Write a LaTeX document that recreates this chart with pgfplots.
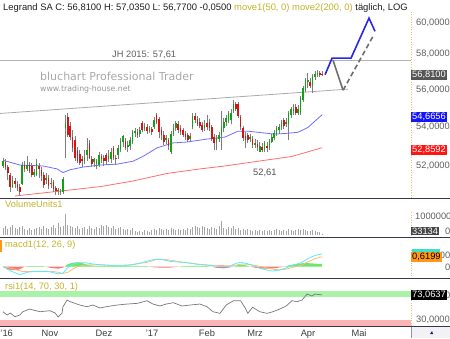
\documentclass[border=0pt]{standalone}
\usepackage{pgfplots}
\pgfplotsset{compat=1.18}
\usepackage{pgfplotstable}
\usepackage{fontspec}
\setmainfont{Liberation Sans}
\newfontfamily\dejavu{DejaVu Sans}
\definecolor{txt}{RGB}{30,30,30}
\definecolor{ylw}{RGB}{195,180,40}
\definecolor{wick}{RGB}{125,125,125}
\definecolor{cgreen}{RGB}{20,160,20}
\definecolor{cred}{RGB}{215,20,20}
\definecolor{ma50}{RGB}{110,110,255}
\definecolor{ma200}{RGB}{255,110,110}
\definecolor{sep}{RGB}{55,55,75}
\definecolor{dotc}{RGB}{225,195,110}
\definecolor{volc}{RGB}{165,165,165}
\definecolor{macdc}{RGB}{90,235,250}
\definecolor{sigc}{RGB}{255,185,120}
\definecolor{hgreen}{RGB}{110,230,110}
\definecolor{hred}{RGB}{245,120,120}
\definecolor{rsig}{RGB}{170,242,170}
\definecolor{rsir}{RGB}{252,180,180}
\definecolor{projb}{RGB}{40,40,230}
\definecolor{projg}{RGB}{110,110,110}
\definecolor{jhc}{RGB}{178,178,178}
\definecolor{trc}{RGB}{170,170,170}
\definecolor{rsil}{RGB}{120,120,120}
\newcommand{\ff}{\fontsize{9.3}{11}\selectfont}

\pgfplotstableread{
i O H L C
0 51.86 52.32 51.75 52.12
1 52.06 52.22 51.65 51.80
2 51.80 51.91 51.09 51.45
3 51.39 51.50 50.43 50.73
4 50.73 51.29 50.63 51.09
5 51.04 51.19 50.68 50.88
6 50.88 51.04 50.48 50.68
7 50.73 50.88 50.28 50.43
8 50.88 52.06 50.83 51.91
9 51.91 52.12 51.55 51.70
10 51.70 52.38 51.60 51.91
11 51.91 52.06 51.45 51.60
12 51.86 52.01 51.24 51.39
13 51.39 51.70 51.24 51.55
14 51.39 52.22 51.29 51.96
15 51.86 52.01 51.19 51.70
16 51.65 51.80 51.04 51.29
17 51.39 51.55 50.68 50.83
18 51.09 51.45 50.88 51.19
19 51.19 51.39 50.58 50.78
20 50.88 51.19 50.68 50.93
21 50.99 51.09 50.43 50.58
22 50.63 50.78 50.28 50.48
23 50.48 50.68 50.28 50.53
24 50.43 50.58 50.28 50.48
25 50.43 51.24 50.33 51.14
26 53.92 54.62 52.32 54.19
27 54.51 54.73 53.44 53.54
28 54.03 54.24 53.28 53.44
29 53.44 53.81 52.64 52.85
30 53.28 53.49 52.12 52.32
31 52.74 52.91 52.01 52.12
32 52.53 52.74 51.91 52.01
33 52.22 52.43 51.80 52.12
34 52.12 52.74 51.96 52.32
35 52.48 53.38 52.12 52.74
36 53.12 53.28 52.22 52.32
37 52.22 52.38 51.80 51.96
38 52.06 52.32 51.80 52.22
39 51.96 52.22 51.70 52.12
40 51.91 52.64 51.80 52.48
41 52.38 52.53 52.01 52.22
42 52.32 52.48 51.86 52.12
43 52.48 52.58 51.91 52.12
44 52.22 52.74 52.06 52.38
45 52.22 52.86 52.01 52.64
46 52.86 52.97 52.17 52.32
47 52.32 52.48 51.91 52.22
48 52.48 53.01 52.22 52.86
49 52.74 53.38 52.64 53.22
50 53.17 53.54 52.90 53.49
51 53.22 53.38 52.74 52.85
52 52.90 53.22 52.64 53.01
53 52.95 53.44 52.74 53.28
54 53.17 53.81 53.06 53.70
55 53.65 53.92 53.44 53.76
56 53.70 53.86 53.38 53.54
57 53.60 53.97 53.44 53.81
58 54.19 54.30 53.70 53.81
59 53.86 54.19 53.76 54.03
60 53.97 54.13 53.60 53.76
61 53.76 54.03 53.65 53.92
62 53.86 53.97 53.54 53.70
63 53.97 54.51 53.86 54.35
64 54.62 54.73 54.13 54.24
65 54.40 54.51 53.38 53.70
66 53.81 53.97 53.28 53.54
67 53.54 53.76 53.01 53.17
68 53.28 53.54 53.06 53.38
69 53.28 53.38 52.74 52.95
70 52.64 53.76 52.53 53.60
71 53.60 54.13 53.49 53.92
72 53.92 54.30 53.76 54.19
73 54.13 54.30 53.65 53.81
74 53.92 54.08 53.54 53.70
75 53.81 53.92 53.44 53.54
76 53.60 53.76 53.28 53.44
77 53.54 53.65 53.17 53.28
78 53.33 53.65 53.22 53.49
79 53.97 54.73 53.86 54.57
80 54.57 54.73 54.19 54.35
81 54.40 54.57 54.03 54.13
82 54.24 54.46 53.92 54.03
83 54.08 54.24 53.70 53.81
84 53.92 54.35 53.76 54.08
85 54.19 54.62 53.81 53.97
86 54.24 54.40 53.76 53.92
87 53.97 54.08 53.22 53.33
88 53.44 53.60 52.74 53.12
89 53.17 53.54 52.74 53.38
90 53.33 53.70 53.17 53.54
91 53.54 54.89 52.74 53.97
92 53.92 54.46 53.70 54.24
93 54.24 54.67 54.03 54.46
94 54.30 54.89 54.19 54.73
95 54.35 55.00 54.13 54.78
96 54.89 55.45 54.78 55.22
97 55.22 55.33 54.89 55.00
98 55.22 55.33 54.46 54.57
99 54.51 54.62 53.81 53.97
100 53.92 54.03 53.22 53.38
101 53.49 53.70 52.85 53.28
102 53.54 53.65 53.12 53.28
103 53.33 53.60 53.17 53.44
104 53.33 53.49 52.85 53.01
105 53.01 53.33 52.85 53.12
106 53.06 53.28 52.69 52.90
107 52.64 53.17 52.64 52.95
108 52.90 53.12 52.64 52.74
109 52.74 53.22 52.61 53.12
110 52.95 53.17 52.64 52.85
111 52.85 53.33 52.74 53.22
112 53.17 53.60 53.12 53.44
113 53.38 53.81 53.28 53.65
114 53.60 54.03 53.49 53.92
115 53.81 54.13 53.60 53.97
116 53.97 54.35 53.81 54.19
117 54.35 54.46 53.86 54.03
118 54.13 54.46 53.97 54.24
119 54.13 54.89 53.28 54.73
120 54.67 55.11 54.46 54.95
121 54.89 55.22 54.67 55.00
122 55.06 55.22 54.62 54.73
123 54.78 55.17 54.62 54.95
124 54.78 55.67 54.67 55.56
125 55.45 56.23 55.33 56.11
126 56.00 56.68 55.89 56.57
127 56.45 56.96 56.11 56.57
128 56.45 56.68 56.11 56.23
129 56.23 56.90 55.83 56.79
130 56.73 57.07 56.57 56.90
131 56.85 57.13 56.73 56.96
132 56.96 57.07 56.73 56.85
133 56.86 57.035 56.77 56.81
}\candles

\pgfplotstableread{
i V
0 420000
1 540000
2 360000
3 480000
4 600000
5 420000
6 360000
7 480000
8 540000
9 360000
10 300000
11 420000
12 300000
13 360000
14 420000
15 480000
16 360000
17 540000
18 420000
19 360000
20 480000
21 600000
22 420000
23 720000
24 480000
25 540000
26 1260000
27 600000
28 540000
29 480000
30 420000
31 540000
32 360000
33 420000
34 480000
35 360000
36 540000
37 420000
38 360000
39 480000
40 420000
41 600000
42 540000
43 600000
44 480000
45 420000
46 540000
47 360000
48 420000
49 480000
50 360000
51 300000
52 360000
53 300000
54 420000
55 240000
56 180000
57 240000
58 180000
59 300000
60 240000
61 180000
62 300000
63 360000
64 300000
65 420000
66 360000
67 300000
68 360000
69 300000
70 420000
71 360000
72 300000
73 360000
74 300000
75 360000
76 300000
77 420000
78 360000
79 480000
80 540000
81 480000
82 420000
83 540000
84 480000
85 420000
86 360000
87 480000
88 420000
89 360000
90 540000
91 840000
92 420000
93 360000
94 480000
95 420000
96 540000
97 360000
98 420000
99 300000
100 360000
101 300000
102 360000
103 300000
104 240000
105 300000
106 240000
107 300000
108 240000
109 300000
110 240000
111 300000
112 240000
113 300000
114 360000
115 300000
116 240000
117 300000
118 240000
119 360000
120 300000
121 240000
122 300000
123 360000
124 300000
125 360000
126 300000
127 240000
128 240000
129 300000
130 240000
131 180000
132 180000
133 33134
}\vol

\begin{document}
\begin{tikzpicture}
\path[use as bounding box] (0pt,0pt) rectangle (450pt,338pt);
\pgfplotsset{every axis/.append style={scale only axis, hide axis, xmin=-1.25, xmax=170, width=411pt, clip=true}}

% ---------- main price panel ----------
\begin{axis}[at={(0pt,140pt)}, anchor=south west, height=198pt, ymin=50.11, ymax=60.93]
\addplot[jhc, line width=0.8pt] coordinates {(-1.25,57.61) (170,57.61)};
\addplot[trc, line width=0.8pt] coordinates {(-1.25,54.73) (143.75,56.06)};
\addplot[ma50, line width=0.8pt] coordinates {(0,52.17) (7.08,51.91) (16.67,51.86) (22.5,51.70) (25,51.50) (27.9,51.65) (33.3,51.80) (40.4,51.91) (47.5,51.96) (54.2,52.12) (58.3,52.38) (64.2,52.85) (70.8,53.12) (76.7,53.17) (85,53.33) (92.5,53.44) (97.9,53.76) (102.1,53.76) (106.25,53.70) (113.3,53.60) (118.75,53.65) (122.9,53.70) (127.1,53.97) (133,54.6656)};
\addplot[ma200, line width=0.8pt] coordinates {(5,50.22) (26.7,50.53) (40.4,50.73) (54.2,51.04) (68.3,51.45) (82.1,51.70) (92.5,51.86) (106.25,52.12) (120.4,52.38) (133,52.8592)};
% candles: wick from L to H, body from O to C, values read from the table
\pgfplotsinvokeforeach{0,...,133}{%
  \pgfplotstablegetelem{#1}{O}\of\candles\let\Ov\pgfplotsretval
  \pgfplotstablegetelem{#1}{H}\of\candles\let\Hv\pgfplotsretval
  \pgfplotstablegetelem{#1}{L}\of\candles\let\Lv\pgfplotsretval
  \pgfplotstablegetelem{#1}{C}\of\candles\let\Cv\pgfplotsretval
  \pgfmathparse{\Cv>\Ov}%
  \ifdim\pgfmathresult pt>0.5pt \def\bc{cgreen}\else\def\bc{cred}\fi
  \edef\temp{\noexpand\addplot[wick, line width=0.75pt, forget plot] coordinates {(#1,\Lv) (#1,\Hv)};%
    \noexpand\addplot[\bc, line width=1.7pt, forget plot] coordinates {(#1,\Ov) (#1,\Cv)};}%
  \temp
}
% projections
\addplot[projg, line width=1.6pt] coordinates {(137.5,57.64) (141.7,56.0)};
\addplot[projg, line width=1.6pt, dash pattern=on 5pt off 3pt] coordinates {(141.7,56.0) (154.6,59.05)};
\addplot[projb, line width=1.6pt] coordinates {(134.2,56.85) (137.1,57.75) (145,57.75) (152.5,59.94) (155,59.22)};
\end{axis}

% ---------- volume ----------
\begin{axis}[at={(0pt,101pt)}, anchor=south west, height=38pt, ymin=-120000, ymax=2160000]
\addplot[ycomb, volc, line width=0.9pt, mark=none] table[x=i, y=V] {\vol};
\end{axis}

% ---------- MACD ----------
\begin{axis}[at={(0pt,59.5pt)}, anchor=south west, height=41pt, ymin=-0.733, ymax=1.81]
\addplot[fill=hred, draw=none] coordinates {(0,0) (2,-0.15) (4,-0.22) (6,-0.22) (8,-0.08) (9,0)};
\addplot[fill=hred, draw=none] coordinates {(18,0) (20,-0.08) (23,-0.12) (25,-0.06) (25.5,0)};
\addplot[fill=hred, draw=none] coordinates {(61,0) (63,-0.04) (66,-0.06) (70,-0.05) (73,0)};
\addplot[fill=hred, draw=none] coordinates {(87,0) (89,-0.07) (92,-0.1) (94,-0.06) (96,0)};
\addplot[fill=hred, draw=none] coordinates {(103,0) (105,-0.06) (108,-0.12) (111,-0.12) (114,-0.08) (117,0)};
\addplot[fill=hgreen, draw=none] coordinates {(9,0) (10,0.03) (17,0.03) (17.5,0)};
\addplot[fill=hgreen, draw=none] coordinates {(25.5,0) (27,0.15) (29,0.25) (31,0.27) (33,0.22) (35,0.12) (37,0.06) (45,0.04) (55,0.05) (60,0.03) (61,0)};
\addplot[fill=hgreen, draw=none] coordinates {(73,0) (75,0.04) (80,0.05) (85,0.03) (87,0)};
\addplot[fill=hgreen, draw=none] coordinates {(96,0) (98,0.1) (100,0.12) (102,0.05) (103,0)};
\addplot[fill=hgreen, draw=none] coordinates {(117,0) (119,0.08) (121,0.14) (123,0.18) (125,0.22) (127,0.22) (129,0.2) (131,0.18) (133,0.17) (133,0)};
\addplot[sigc, line width=0.8pt] coordinates {(0,0.0) (4,-0.12) (8,-0.3) (12,-0.3) (16,-0.3) (20,-0.28) (23,-0.35) (25,-0.42) (27,-0.35) (29,-0.15) (31,0.0) (34,0.1) (40,0.13) (46,0.08) (52,0.1) (57,0.2) (61,0.3) (64,0.45) (67,0.46) (70,0.4) (74,0.3) (78,0.22) (82,0.15) (86,0.1) (90,0.08) (94,0.05) (97,0.1) (100,0.17) (103,0.13) (106,0.05) (109,-0.05) (112,-0.15) (115,-0.2) (118,-0.15) (121,-0.03) (124,0.08) (127,0.3) (130,0.5) (133,0.62)};
\addplot[macdc, line width=0.8pt] coordinates {(0,0.0) (3,-0.25) (7,-0.5) (10,-0.35) (13,-0.3) (17,-0.28) (20,-0.33) (23,-0.45) (25,-0.4) (27,-0.05) (29,0.15) (31,0.25) (34,0.25) (37,0.18) (40,0.12) (44,0.08) (49,0.05) (54,0.12) (57,0.22) (61,0.38) (64,0.48) (67,0.42) (70,0.32) (74,0.28) (78,0.22) (82,0.12) (86,0.08) (90,0.02) (94,0.0) (97,0.2) (99,0.28) (102,0.18) (105,0.02) (108,-0.14) (112,-0.27) (115,-0.22) (118,-0.08) (121,0.1) (124,0.23) (127,0.5) (130,0.7) (133,0.79)};
\end{axis}

% ---------- RSI ----------
\begin{axis}[at={(0pt,12pt)}, anchor=south west, height=47pt, ymin=19.6, ymax=100.5]
\addplot[fill=rsig, draw=none] coordinates {(-1.25,70) (170,70) (170,80.3) (-1.25,80.3)};
\addplot[fill=rsir, draw=none] coordinates {(-1.25,20) (170,20) (170,30) (-1.25,30)};
\addplot[rsil, line width=0.7pt] coordinates {(0,44.2) (1.7,38.5) (3,42) (5,35.6) (7,38.5) (8.3,44.2) (11,48.8) (15.4,44.2) (19.6,45.9) (21.7,42) (23,35.1) (24.6,42) (25,52.8) (26.7,64.3) (28,61.4) (32,55.7) (35,52.8) (37.5,55.7) (40.4,50.6) (43,52.8) (47.5,55.7) (51.7,57.4) (56,58.6) (60,63.1) (62.5,57.4) (65.4,54) (68,57.4) (71,59.7) (74.6,54) (78,55.7) (82,57.4) (85,52.8) (87.5,44.2) (90.4,41.4) (93,55.7) (96,63.1) (99,63.1) (101,50) (102,41.4) (104,51.8) (107,44.2) (110,41.4) (112.5,44.2) (115,48.3) (118,54) (120.4,63.1) (122.5,61.4) (124.6,64.3) (126.7,74.6) (128.75,71.2) (130,74.6) (133,73.06)};
\end{axis}

\begin{scope}[x=1pt,y=1pt]
% ---------- separators and frames ----------
\draw[sep, line width=1.5pt] (0,139.5) -- (450,139.5);
\draw[sep, line width=1.1pt] (0,100.8) -- (450,100.8);
\draw[sep, line width=1.1pt] (0,59.5) -- (450,59.5);
\draw[sep, line width=1.1pt] (0,11.5) -- (450,11.5);
\draw[dotc, line width=0.8pt, dash pattern=on 1pt off 1.5pt] (411,326) -- (411,140.5);
\draw[dotc, line width=0.8pt, dash pattern=on 1pt off 1.5pt] (411,126) -- (411,101.5);
\draw[dotc, line width=0.8pt, dash pattern=on 1pt off 1.5pt] (411,88) -- (411,60.5);
\draw[dotc, line width=0.8pt, dash pattern=on 1pt off 1.5pt] (411,48) -- (411,12.5);
\fill[color={rgb,255:red,242;green,242;blue,246}] (411.5,0) rectangle (450,11);
\draw[color={rgb,255:red,150;green,150;blue,160}, line width=0.6pt] (411.5,0) -- (411.5,11);
\fill[color={rgb,255:red,30;green,30;blue,120}] (430,4) -- (433,4) -- (432,7) -- cycle;
\fill[color={rgb,255:red,255;green,150;blue,20}] (0,86) rectangle (2,98);

% ---------- texts ----------
\node[anchor=base west, inner sep=0, font=\fontsize{9.4}{11}\selectfont] at (3,327.8) {\color{txt}Legrand SA C: 56,8100 H: 57,0350 L: 56,7700 -0,0500 \color{ylw}move1(50, 0) move2(200, 0) \color{txt}täglich, LOG};
\node[anchor=base west, inner sep=0, font=\ff, text={rgb,255:red,95;green,95;blue,95}] at (112,280.7) {JH 2015: 57,61};
\node[anchor=base west, inner sep=0, font=\dejavu\fontsize{11}{13}\selectfont, text={rgb,255:red,168;green,168;blue,168}] at (40,257) {bluchart Professional Trader};
\node[anchor=base west, inner sep=0, font=\dejavu\fontsize{7.8}{9}\selectfont, text={rgb,255:red,150;green,150;blue,150}] at (40,246) {www.trading-house.net};
\node[anchor=base west, inner sep=0, font=\ff, text={rgb,255:red,80;green,80;blue,80}] at (253,162.5) {52,61};

\begin{scope}[every node/.style={anchor=west, inner sep=0, font=\ff, text={rgb,255:red,95;green,95;blue,95}}]
\node at (416,315.3) {60,0000};
\node at (416,284) {58,0000};
\node at (416,248) {56,0000};
\node at (416,211) {54,0000};
\node at (416,172) {52,0000};
\node at (415,122) {1000000};
\node at (416,18) {30,0000};
\node[anchor=east] at (450.5,107) {0};
\node[anchor=east] at (450.5,71) {0};
\node[anchor=east] at (450.5,82.5) {00};
\node[anchor=east] at (450.5,43) {0};
\end{scope}
\begin{scope}[every node/.style={anchor=west, inner sep=1pt, font=\ff}]
\node[fill={rgb,255:red,85;green,85;blue,85}, text=white] at (411,263) {56,8100};
\node[fill={rgb,255:red,20;green,20;blue,255}, text=white] at (411,221) {54,6656};
\node[fill={rgb,255:red,255;green,20;blue,20}, text=white] at (411,188) {52,8592};
\node[fill={rgb,255:red,70;green,70;blue,70}, text=white] at (411,107) {33134};
\fill[color={rgb,255:red,60;green,225;blue,200}] (411.5,85.5) rectangle (440,89.5);
\node[fill={rgb,255:red,255;green,150;blue,20}, text=black] at (411,81.3) {0,6199};
\node[fill=black, text=white] at (411,43) {73,0637};
\end{scope}

\begin{scope}[every node/.style={anchor=base west, inner sep=0, font=\ff, text=ylw}]
\node at (5,130.4) {VolumeUnits1};
\node at (5,90.7) {macd1(12, 26, 9)};
\node at (5,48.7) {rsi1(14, 70, 30, 1)};
\end{scope}

\begin{scope}[every node/.style={anchor=base, inner sep=0, font=\ff, text={rgb,255:red,60;green,60;blue,60}}]
\node[anchor=base west] at (0.3,1.4) {'16};
\node at (50,1.4) {Nov};
\node at (104,1.4) {Dez};
\node at (152,1.4) {'17};
\node at (207,1.4) {Feb};
\node at (255,1.4) {Mrz};
\node at (308,1.4) {Apr};
\node at (359,1.4) {Mai};
\end{scope}
\end{scope}
\end{tikzpicture}
\end{document}
